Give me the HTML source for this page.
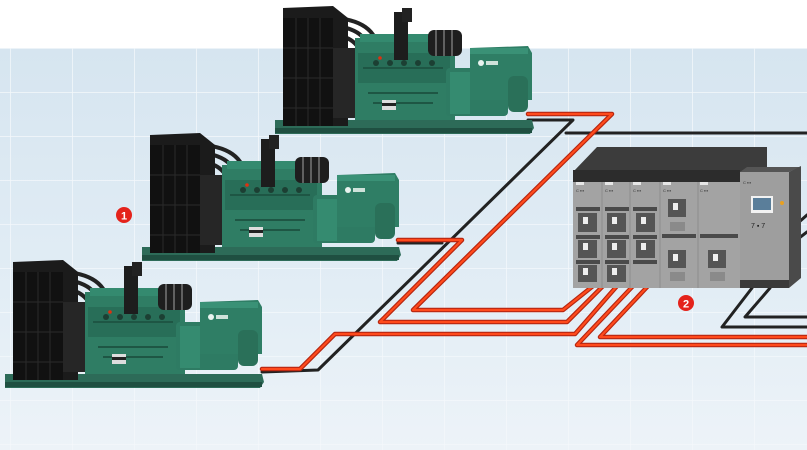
<!DOCTYPE html>
<html><head><meta charset="utf-8"><style>
html,body{margin:0;padding:0;background:#fff;}
svg{display:block;}
</style></head><body>
<svg width="807" height="450" viewBox="0 0 807 450" xmlns="http://www.w3.org/2000/svg" font-family="Liberation Sans, sans-serif">
<defs>
<linearGradient id="bg" x1="0" y1="0" x2="0" y2="1">
<stop offset="0" stop-color="#d6e5f0"/><stop offset="0.6" stop-color="#e2edf5"/><stop offset="1" stop-color="#edf3f8"/>
</linearGradient>
<pattern id="grid" width="62" height="44" patternUnits="userSpaceOnUse" x="10" y="48">
<path d="M0 0H62M0 0V44" stroke="#f4f8fb" stroke-width="1.5" fill="none"/>
</pattern>
<g id="gen">
<!-- base -->
<polygon points="-3,112 254,112 256,120 252,126 -3,126" fill="#2d6b58"/>
<rect x="-3" y="120" width="257" height="5" fill="#1f4f41"/>
<!-- pipes -->
<path d="M30,10 Q95,5 100,40 M35,18 Q88,14 92,45 M40,26 Q80,24 84,50" stroke="#222" stroke-width="4" fill="none"/>
<!-- radiator -->
<polygon points="5,0 55,-2 70,10 70,118 5,118" fill="#1b1b1b"/>
<rect x="5" y="10" width="50" height="108" fill="#111"/>
<path d="M18 10V118M30 10V118M42 10V118M5 40H55M5 70H55M5 100H55" stroke="#2a2a2a" stroke-width="1"/>
<rect x="55" y="40" width="22" height="70" fill="#262626"/>
<!-- engine -->
<rect x="77" y="30" width="100" height="82" fill="#2f7d64"/>
<rect x="80" y="45" width="92" height="30" fill="#286e58"/>
<path d="M85 60h80M90 85h70M95 95h60" stroke="#1e5644" stroke-width="2"/>
<circle cx="98" cy="55" r="3" fill="#1c3f33"/><circle cx="112" cy="55" r="3" fill="#1c3f33"/><circle cx="126" cy="55" r="3" fill="#1c3f33"/><circle cx="140" cy="55" r="3" fill="#1c3f33"/><circle cx="154" cy="55" r="3" fill="#1c3f33"/>
<rect x="104" y="92" width="14" height="10" fill="#ddd"/>
<rect x="104" y="95" width="14" height="3" fill="#222"/>
<circle cx="102" cy="50" r="1.8" fill="#e03010"/>
<!-- top manifold -->
<rect x="82" y="26" width="95" height="8" fill="#348a6f"/>
<!-- exhaust -->
<rect x="116" y="4" width="14" height="48" fill="#1d1d1d"/>
<rect x="124" y="0" width="10" height="14" fill="#222"/>
<!-- turbos -->
<rect x="150" y="22" width="34" height="26" rx="6" fill="#1e1e1e"/>
<path d="M158 22v26M166 22v26M174 22v26" stroke="#777" stroke-width="1.5"/>
<!-- alternator -->
<rect x="168" y="60" width="62" height="48" rx="4" fill="#2e7b63"/>
<rect x="172" y="64" width="20" height="42" fill="#358b70"/>
<polygon points="192,40 250,38 254,45 254,92 192,92" fill="#2f7e65"/>
<rect x="192" y="40" width="58" height="6" fill="#3a9176"/>
<circle cx="203" cy="55" r="3" fill="#e9f3ef"/>
<rect x="208" y="53" width="12" height="4" fill="#cfe2da"/>
<rect x="230" y="68" width="20" height="36" rx="6" fill="#2a7059"/>
</g>
</defs>
<rect width="807" height="450" fill="#fff"/>
<rect y="48" width="807" height="402" fill="url(#bg)"/>
<rect y="48" width="807" height="402" fill="url(#grid)"/>

<!-- cables -->
<g fill="none" stroke-linejoin="round" stroke-linecap="round">
<g stroke="#222" stroke-width="3">
<path d="M528,120 L573,120 L318,370 L262,372"/>
<path d="M566,133 L807,133"/>
<path d="M398,243 L442,243"/>
<path d="M752,288 L722,327 L807,327"/>
<path d="M770,288 L745,317 L807,317"/>
<path d="M790,230 L807,215 M790,245 L807,232"/>
</g>
<g stroke="#b52510" stroke-width="4.5">
<path d="M528,114 L612,114 L413,310 L563,310 L593,286"/>
<path d="M398,240 L462,240 L380,322 L567,322 L603,286"/>
<path d="M262,369 L300,369 L335,334 L575,334 L617,286"/>
<path d="M633,286 L577,345 L807,345"/>
<path d="M648,286 L600,337 L807,337"/>
</g>
<g stroke="#ff4a1c" stroke-width="2.2">
<path d="M528,114 L612,114 L413,310 L563,310 L593,286"/>
<path d="M398,240 L462,240 L380,322 L567,322 L603,286"/>
<path d="M262,369 L300,369 L335,334 L575,334 L617,286"/>
<path d="M633,286 L577,345 L807,345"/>
<path d="M648,286 L600,337 L807,337"/>
</g>
</g>

<!-- generators -->
<use href="#gen" transform="translate(278,8)"/>
<use href="#gen" transform="translate(145,135)"/>
<use href="#gen" transform="translate(8,262)"/>

<!-- switchgear -->
<polygon points="573,172 597,147 767,147 767,168 740,172" fill="#3c3c3c"/>
<rect x="573" y="170" width="167" height="12" fill="#2c2c2c"/>
<rect x="573" y="182" width="167" height="106" fill="#a3a3a3"/>
<path d="M602 182V288M630 182V288M660 182V288M698 182V288" stroke="#8e8e8e" stroke-width="1"/>
<g fill="#e6e6e6"><rect x="576" y="182" width="8" height="3"/><rect x="605" y="182" width="8" height="3"/><rect x="633" y="182" width="8" height="3"/><rect x="663" y="182" width="8" height="3"/><rect x="700" y="182" width="8" height="3"/></g>
<g fill="#4a4a4a">
<rect x="576" y="207" width="24" height="4"/><rect x="605" y="207" width="24" height="4"/><rect x="633" y="207" width="24" height="4"/>
<rect x="576" y="235" width="24" height="4"/><rect x="605" y="235" width="24" height="4"/><rect x="633" y="235" width="24" height="4"/>
<rect x="662" y="234" width="34" height="4"/><rect x="700" y="234" width="38" height="4"/>
<rect x="576" y="260" width="24" height="4"/><rect x="605" y="260" width="24" height="4"/><rect x="633" y="260" width="24" height="4"/>
</g>
<g fill="#555">
<rect x="578" y="213" width="19" height="19"/><rect x="607" y="213" width="19" height="19"/><rect x="636" y="213" width="19" height="19"/>
<rect x="578" y="240" width="19" height="18"/><rect x="607" y="240" width="19" height="18"/><rect x="636" y="240" width="19" height="18"/>
<rect x="578" y="265" width="19" height="17"/><rect x="607" y="265" width="19" height="17"/>
<rect x="668" y="199" width="18" height="18"/><rect x="668" y="250" width="18" height="18"/><rect x="708" y="250" width="18" height="18"/>
</g>
<g fill="#8a8a8a"><rect x="670" y="222" width="15" height="9"/><rect x="670" y="272" width="15" height="9"/><rect x="710" y="272" width="15" height="9"/></g>
<g fill="#eee"><rect x="583" y="217" width="5" height="7"/><rect x="612" y="217" width="5" height="7"/><rect x="641" y="217" width="5" height="7"/><rect x="583" y="243" width="5" height="7"/><rect x="612" y="243" width="5" height="7"/><rect x="641" y="243" width="5" height="7"/><rect x="583" y="268" width="5" height="7"/><rect x="612" y="268" width="5" height="7"/><rect x="673" y="203" width="5" height="7"/><rect x="673" y="254" width="5" height="7"/><rect x="713" y="254" width="5" height="7"/></g>
<g fill="#333" font-size="4"><text x="576" y="192">C ▪▪▪</text><text x="605" y="192">C ▪▪▪</text><text x="633" y="192">C ▪▪▪</text><text x="663" y="192">C ▪▪▪</text><text x="700" y="192">C ▪▪▪</text></g>
<!-- right cabinet -->
<polygon points="740,172 747,167 800,167 789,172" fill="#555"/>
<polygon points="789,172 801,166 801,278 789,288" fill="#4a4a4a"/>
<rect x="740" y="172" width="49" height="116" fill="#9e9e9e"/>
<rect x="740" y="280" width="49" height="8" fill="#3a3a3a"/>
<rect x="751" y="196" width="22" height="17" fill="#f2f2f2"/>
<rect x="753" y="198" width="18" height="12" fill="#5a7e9a"/>
<circle cx="782" cy="203" r="2" fill="#e8a020"/>
<text x="751" y="228" font-size="7" fill="#222">7 ▪ 7</text>
<text x="743" y="184" font-size="4" fill="#333">C ▪▪▪</text>

<!-- badges -->
<circle cx="124" cy="215" r="8" fill="#e4231b"/>
<text x="124" y="219.5" font-size="11" font-weight="bold" fill="#fff" text-anchor="middle">1</text>
<circle cx="686" cy="303" r="8" fill="#e4231b"/>
<text x="686" y="307.5" font-size="11" font-weight="bold" fill="#fff" text-anchor="middle">2</text>
</svg>
</body></html>
